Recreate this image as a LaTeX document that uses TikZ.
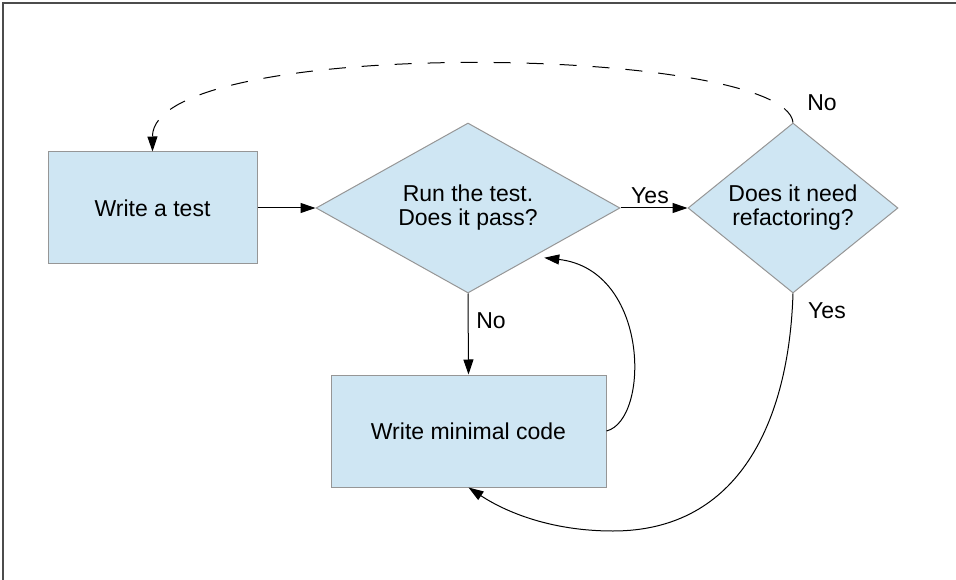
\documentclass[tikz,border=0pt]{standalone}
\usepackage{fontspec}
\setmainfont{Liberation Sans}
\usetikzlibrary{arrows.meta,shapes.geometric,calc}
\definecolor{boxfill}{RGB}{207,230,243}
\definecolor{boxline}{RGB}{150,150,150}
\begin{document}
\begin{tikzpicture}[x=1pt,y=-1pt,
  every node/.style={font=\fontsize{23}{24}\selectfont},
  frameline/.style={line width=1.5pt, draw=black!70},
  proc/.style={rectangle, draw=boxline, fill=boxfill, line width=1pt,
    minimum width=209pt, minimum height=112pt, inner sep=0pt},
  dec/.style={diamond, draw=boxline, fill=boxfill, line width=1pt,
    inner sep=0pt, align=center},
  conn/.style={draw=black, line width=1pt, -{Triangle[length=15pt,width=10pt]}},
  dashconn/.style={conn, dash pattern=on 17pt off 16pt},
  lbl/.style={inner sep=0pt}]
\useasboundingbox (0,0) rectangle (956,580);
\draw[frameline] (3,580) -- (3,3) -- (956,3);

\node[proc] (write) at (152.5,208) {Write a test};
\node[dec, aspect=1.788, minimum width=304pt, minimum height=170pt] (run) at (468,208) {Run the test.\\Does it pass?};
\node[dec, aspect=1.235, minimum width=210pt, minimum height=170pt] (refac) at (793,208) {Does it need\\refactoring?};
\node[proc, minimum width=275pt] (code) at (468.5,431) {Write minimal code};

\draw[conn] (write.east) -- (run.west);
\draw[conn] (run.east) -- (refac.west);
\draw[conn] (run.south) -- (code.north);
\draw[conn] (code.east) .. controls (650,420) and (650,270) .. ($(run.south east)+(0,7)$);
\draw[conn] (refac.south) .. controls (789,420) and (740,531) .. (613,531)
  .. controls (540,531) and (495,505) .. (code.south);
\draw[dashconn] (refac.north) .. controls (785,45) and (152,35) .. (write.north);

\node[lbl] (yes1) at (650,196) {Yes};
\node[lbl] (no1) at (491,321) {No};
\node[lbl] (no2) at (822,103) {No};
\node[lbl] (yes2) at (827,311) {Yes};
\end{tikzpicture}
\end{document}
